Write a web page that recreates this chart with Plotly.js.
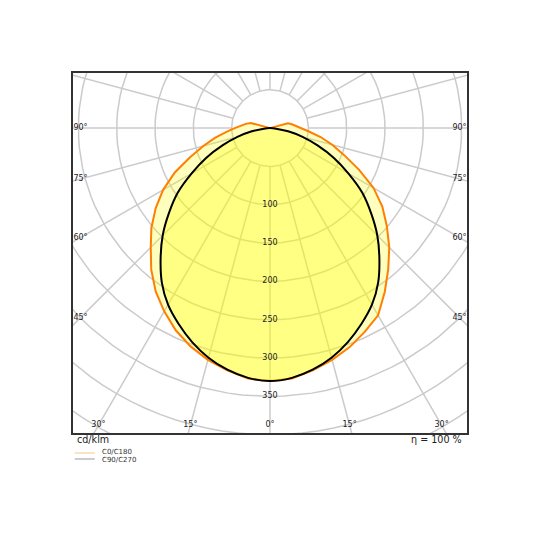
<!DOCTYPE html>
<html>
<head>
<meta charset="utf-8">
<script src="https://cdn.plot.ly/plotly-3.0.1.min.js"></script>
<style>
body { margin: 0; background: #fff; }
#grafico { width: 540px; height: 540px; }
</style>
</head>
<body>
<div id="grafico"></div>
<script>
// angulos gama em graus (0 = para baixo, 90 = horizontal)
var gamas = [0,5,10,15,20,25,30,35,40,45,50,55,60,65,70,75,80,85,90,95,100,105,110];

// intensidades em cd/klm
var c0   = [330,328,321,313,304,293,282,261,240,220,199,179,156,128,103,84,67,51,41,35,29,24,0];
var c180 = [330,328,321,313,303,291,276,260,241,220,202,182,161,137,111,90,73,57,46,38,32,26,0];
var c90  = [330,327,320,310,297,282,266,246,222,198,172,147,118,92,66,44,24,8,0,0,0,0,0];
var c270 = [330,327,320,310,297,282,266,246,222,198,172,147,118,92,66,44,24,8,0,0,0,0,0];

var aneis = [50,100,150,200,250,300,350,400,450,500];
var rotulosRaio = [100,150,200,250,300,350];
var angLado = [45,60,75,90];
var angBaixo = [0,15,30];
var nomes = ["C0/C180", "C90/C270"];
var unidade = "cd/klm";
var eficiencia = "η = 100 %";

var rad = Math.PI / 180;
var fonte = "DejaVu Sans";

// ultimo indice usado: o primeiro zero (o resto fica todo no centro)
function fim(v) {
	for (var i = 0; i < v.length; i++) {
		if (v[i] == 0) return i;
	}
	return v.length - 1;
}

// lado esquerdo (esq) de cima ate 0, depois lado direito (dir) de 0 ate cima
function curva(esq, dir) {
	var xs = [], ys = [];
	for (var i = fim(esq); i >= 0; i--) {
		xs.push(-esq[i] * Math.sin(gamas[i] * rad));
		ys.push(-esq[i] * Math.cos(gamas[i] * rad));
	}
	for (var i = 1; i <= fim(dir); i++) {
		xs.push(dir[i] * Math.sin(gamas[i] * rad));
		ys.push(-dir[i] * Math.cos(gamas[i] * rad));
	}
	return {x: xs, y: ys};
}

// grade polar: circulos e raios de 15 em 15 graus
var gx = [], gy = [];
for (var k = 0; k < aneis.length; k++) {
	for (var a = 0; a <= 360; a += 3) {
		gx.push(aneis[k] * Math.sin(a * rad));
		gy.push(aneis[k] * Math.cos(a * rad));
	}
	gx.push(null); gy.push(null);
}
for (var a = 0; a < 360; a += 15) {
	gx.push(aneis[0] * Math.sin(a * rad), 600 * Math.sin(a * rad), null);
	gy.push(aneis[0] * Math.cos(a * rad), 600 * Math.cos(a * rad), null);
}

var xmax = 257, ymin = -397.7, ymax = 71.9;

// rotulos de angulo junto a borda
var tx = [], ty = [], tt = [];
for (var i = 0; i < angLado.length; i++) {
	var g = angLado[i] * rad;
	var d = xmax - 9.8;
	var yy = -d * Math.cos(g) / Math.sin(g);
	tx.push(-d, d); ty.push(yy, yy);
	tt.push(angLado[i] + "°", angLado[i] + "°");
}
for (var i = 0; i < angBaixo.length; i++) {
	var yb = ymin + 10;
	var xb = -yb * Math.tan(angBaixo[i] * rad);
	if (angBaixo[i] == 0) {
		tx.push(0); ty.push(yb); tt.push("0°");
	} else {
		tx.push(-xb, xb); ty.push(yb, yb);
		tt.push(angBaixo[i] + "°", angBaixo[i] + "°");
	}
}

var rx = [], ry = [], rt = [];
for (var i = 0; i < rotulosRaio.length; i++) {
	rx.push(0); ry.push(-rotulosRaio[i]); rt.push(String(rotulosRaio[i]));
}

var laranja = curva(c180, c0);
var preta = curva(c270, c90);

var data = [
	{x: gx, y: gy, mode: "lines", line: {color: "#cbcbcb", width: 1.5}, hoverinfo: "skip"},
	{x: laranja.x, y: laranja.y, mode: "lines", fill: "toself",
	 fillcolor: "rgba(255,255,0,0.26)", line: {color: "#ff7f00", width: 2}, name: nomes[0]},
	{x: preta.x, y: preta.y, mode: "lines", fill: "toself",
	 fillcolor: "rgba(255,255,0,0.30)", line: {color: "#000000", width: 2, shape: "spline", smoothing: 1}, name: nomes[1]},
	{x: rx, y: ry, mode: "text", text: rt, textposition: "middle center", cliponaxis: false,
	 textfont: {family: fonte, size: 8, color: "#222"}, hoverinfo: "skip"},
	{x: tx, y: ty, mode: "text", text: tt, textposition: "middle center", cliponaxis: false,
	 textfont: {family: fonte, size: 8, color: "#222"}, hoverinfo: "skip"}
];

function px(v) { return (v - 73) / 394; }
function py(v) { return (433 - v) / 360; }

var layout = {
	width: 540, height: 540,
	margin: {l: 73, r: 73, t: 73, b: 107, pad: 0},
	showlegend: false,
	paper_bgcolor: "#fff", plot_bgcolor: "#fff",
	xaxis: {range: [-xmax, xmax], showgrid: false, zeroline: false, showticklabels: false,
		ticks: "", showline: true, mirror: true, linecolor: "#333", linewidth: 2, fixedrange: true},
	yaxis: {range: [ymin, ymax], showgrid: false, zeroline: false, showticklabels: false,
		ticks: "", showline: true, mirror: true, linecolor: "#333", linewidth: 2, fixedrange: true},
	shapes: [
		{type: "line", xref: "paper", yref: "paper", x0: px(74.7), x1: px(94.7), y0: py(453), y1: py(453),
		 line: {color: "#f9c58b", width: 1}},
		{type: "line", xref: "paper", yref: "paper", x0: px(74.7), x1: px(94.7), y0: py(459), y1: py(459),
		 line: {color: "#999999", width: 1}}
	],
	annotations: [
		{text: unidade, xref: "paper", yref: "paper", x: px(75), y: py(439.5), xanchor: "left", yanchor: "middle",
		 showarrow: false, font: {family: fonte, size: 9.6, color: "#222"}},
		{text: eficiencia, xref: "paper", yref: "paper", x: px(463.5), y: py(439.5), xanchor: "right", yanchor: "middle",
		 showarrow: false, font: {family: fonte, size: 9.6, color: "#222"}},
		{text: nomes[0], xref: "paper", yref: "paper", x: px(99.5), y: py(452.3), xanchor: "left", yanchor: "middle",
		 showarrow: false, font: {family: fonte, size: 7, color: "#333"}},
		{text: nomes[1], xref: "paper", yref: "paper", x: px(99.5), y: py(459.6), xanchor: "left", yanchor: "middle",
		 showarrow: false, font: {family: fonte, size: 7, color: "#333"}}
	]
};

Plotly.newPlot("grafico", data, layout, {displayModeBar: false, staticPlot: true});
</script>
</body>
</html>
